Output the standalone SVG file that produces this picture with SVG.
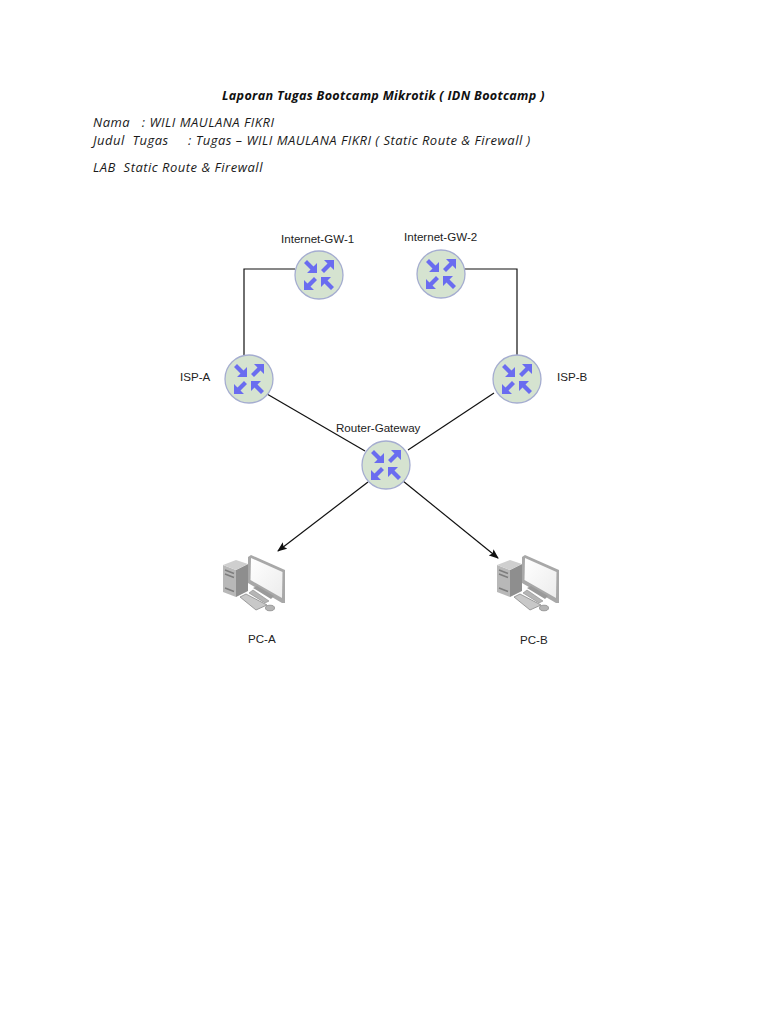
<svg xmlns="http://www.w3.org/2000/svg" xmlns:xlink="http://www.w3.org/1999/xlink" width="768" height="1024" viewBox="0 0 768 1024">
<style>
.doc{font-family:"Open Sans","Noto Sans","DejaVu Sans",sans-serif;font-style:italic;font-size:13px;letter-spacing:.5px;fill:#1a1a1a}
.t{font-weight:bold;font-size:12.6px;letter-spacing:.3px;fill:#111}
.lab{font-family:"Liberation Sans",Arial,sans-serif;font-size:11.6px;fill:#222}
.line{stroke:#111;stroke-width:1.2;fill:none}
.disc{fill:#d5e3d0;stroke:#a5add0;stroke-width:1.3}
.ar{fill:#6a6cf0}
</style>
<defs>
<marker id="ah" markerWidth="10" markerHeight="8" refX="9" refY="4" orient="auto" markerUnits="userSpaceOnUse"><path d="M0 0L10 4L0 8L2 4Z" fill="#111"/></marker>
<g id="router">
<circle class="disc" r="24"/>
<path class="ar" d="M-15-12L-12-15L-5.5-8.5L-2-12L-2-2L-12-2L-8.5-5.5Z"/>
<path class="ar" d="M15 12L12 15L5.5 8.5L2 12L2 2L12 2L8.5 5.5Z"/>
<path class="ar" d="M2-5L5-2L11.5-8.5L15-5L15-15L5-15L8.5-11.5Z"/>
<path class="ar" d="M-2 5L-5 2L-11.5 8.5L-15 5L-15 15L-5 15L-8.5 11.5Z"/>
</g>
<linearGradient id="scr" x1="0" y1="0" x2="1" y2="1"><stop offset="0" stop-color="#fff"/><stop offset="1" stop-color="#ececec"/></linearGradient>
<g id="pc">
<path d="M0 10L13 15L13 42L0 37Z" fill="#b8b8b8"/>
<path d="M13 15L25 9L25 36L13 42Z" fill="#8e8e8e"/>
<path d="M0 10L13 5L25 9L13 15Z" fill="#cfcfcf"/>
<path d="M2 15L11 18.500M2 19L11 22.500M2 33L11 36.500" stroke="#7d7d7d" stroke-width="1.5"/>
<path d="M25 2L28 0L62 15L62 48L59 48L25 28Z" fill="#a8a8a8"/>
<path d="M28 3L59.500 17L59 43L27.500 25Z" fill="url(#scr)"/>
<path d="M30 33L34 31L51 41L48 44Z" fill="#9a9a9a"/>
<path d="M26 38L30 35L46 46L42 48Z" fill="#b5b5b5" stroke="#8a8a8a" stroke-width=".6"/>
<path d="M17 42L23 39L44 50L33 55Z" fill="#c8c8c8" stroke="#8a8a8a" stroke-width=".8"/>
<ellipse cx="47" cy="53" rx="4.500" ry="2.800" fill="#b5b5b5" stroke="#808080" stroke-width=".7"/>
</g>
</defs>
<rect width="768" height="1024" fill="#fff"/>
<g id="document-text">
<text class="doc t" x="222" y="100">Laporan Tugas Bootcamp Mikrotik ( IDN Bootcamp )</text>
<text class="doc" x="93" y="127" xml:space="preserve">Nama   : WILI MAULANA FIKRI</text>
<text class="doc" x="93" y="145" xml:space="preserve">Judul  Tugas     : Tugas – WILI MAULANA FIKRI ( Static Route &amp; Firewall )</text>
<text class="doc" x="93" y="172" xml:space="preserve">LAB  Static Route &amp; Firewall</text>
</g>
<g id="connectors">
<path class="line" d="M295 269H244V356"/>
<path class="line" d="M465 269H517V356"/>
<path class="line" d="M267 394L365 451"/>
<path class="line" d="M494 393L408 450"/>
<path class="line" marker-end="url(#ah)" d="M368 482L278 551"/>
<path class="line" marker-end="url(#ah)" d="M403 481L498 558"/>
</g>
<g id="internet-gw-1"><use xlink:href="#router" href="#router" x="319" y="275"/><text class="lab" x="281" y="243">Internet-GW-1</text></g>
<g id="internet-gw-2"><use xlink:href="#router" href="#router" x="441" y="274"/><text class="lab" x="404" y="241">Internet-GW-2</text></g>
<g id="isp-a"><use xlink:href="#router" href="#router" x="249" y="379"/><text class="lab" x="180" y="381">ISP-A</text></g>
<g id="isp-b"><use xlink:href="#router" href="#router" x="517" y="379"/><text class="lab" x="557" y="381">ISP-B</text></g>
<g id="router-gateway"><use xlink:href="#router" href="#router" x="386" y="465"/><text class="lab" x="336" y="432">Router-Gateway</text></g>
<g id="pc-a"><use xlink:href="#pc" href="#pc" x="223" y="555"/><text class="lab" x="248" y="643">PC-A</text></g>
<g id="pc-b"><use xlink:href="#pc" href="#pc" x="497" y="555"/><text class="lab" x="520" y="644">PC-B</text></g>
</svg>
